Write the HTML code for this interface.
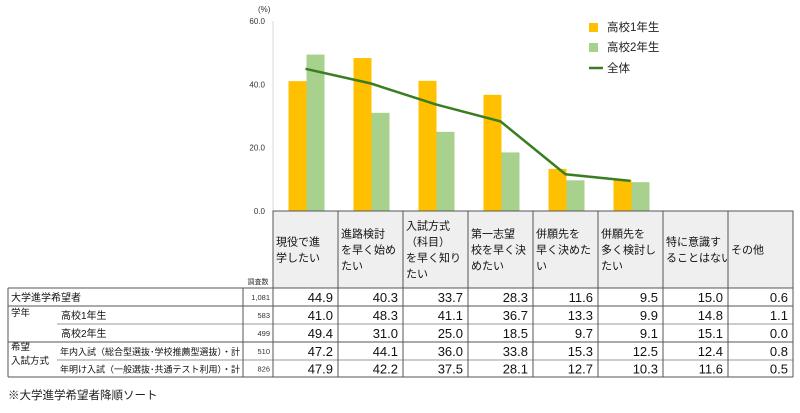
<!DOCTYPE html>
<html><head><meta charset="utf-8"><style>
body{margin:0;background:#fff;}
svg text{font-family:"Liberation Sans","Noto Sans CJK JP",sans-serif;}
</style></head><body>
<svg id="c" width="800" height="408" viewBox="0 0 800 408"></svg>
<script>
const categories=["現役で進\n学したい","進路検討\nを早く始め\nたい","入試方式\n（科目）\nを早く知り\nたい","第一志望\n校を早く決\nめたい","併願先を\n早く決めた\nい","併願先を\n多く検討し\nたい","特に意識す\nることはない","その他"];
const rowLabels=["大学進学希望者","高校1年生","高校2年生","年内入試（総合型選抜･学校推薦型選抜）・計","年明け入試（一般選抜･共通テスト利用）・計"];
const counts=["1,081","583","499","510","826"];
const allValues=[44.9,40.3,33.7,28.3,11.6,9.5,15.0,0.6];
const grade1Values=[41.0,48.3,41.1,36.7,13.3,9.9,14.8,1.1];
const grade2Values=[49.4,31.0,25.0,18.5,9.7,9.1,15.1,0.0];
const nennaiValues=[47.2,44.1,36.0,33.8,15.3,12.5,12.4,0.8];
const akeValues=[47.9,42.2,37.5,28.1,12.7,10.3,11.6,0.5];
const yTicks=[0,20,40,60];
const chartCount=6;

const svg=document.getElementById('c');const NS='http://www.w3.org/2000/svg';
function mk(t,a,p){const e=document.createElementNS(NS,t);for(const k in a)e.setAttribute(k,a[k]);(p||svg).appendChild(e);return e;}
const x0=273,cw=65,y0=211,yTop=21;
const ys=v=>y0-(v/60)*(y0-yTop);
const xc=i=>x0+cw*i+cw/2;

let ax=mk('line',{x1:x0,y1:yTop,x2:x0,y2:y0,stroke:'#d9d9d9'});

let t=mk('text',{x:258,y:12,'font-size':8,fill:'#333'});t.textContent='(%)';

yTicks.forEach(v=>{const e=mk('text',{x:265,y:ys(v)+3,'font-size':8,'text-anchor':'end',fill:'#333'});e.textContent=v.toFixed(1);
});

for(let i=0;i<chartCount;i++){
 const b1=mk('rect',{x:xc(i)-17,y:ys(grade1Values[i]),width:18,height:y0-ys(grade1Values[i]),fill:'#ffc000'});
 
 const b2=mk('rect',{x:xc(i)+1,y:ys(grade2Values[i]),width:18,height:y0-ys(grade2Values[i]),fill:'#a9d18e'});
 
}
let pts=[];for(let i=0;i<chartCount;i++)pts.push(xc(i)+','+ys(allValues[i]));
const ln=mk('polyline',{points:pts.join(' '),fill:'none',stroke:'#3a7d22','stroke-width':2.5});


const leg=[['rect','#ffc000','高校1年生',27],['rect','#a9d18e','高校2年生',47],['line','#3a7d22','全体',68]];
leg.forEach(l=>{
 let m;
 if(l[0]=='rect')m=mk('rect',{x:589,y:l[3]-4,width:9,height:9,fill:l[1]});
 else m=mk('line',{x1:589,y1:l[3],x2:603,y2:l[3],stroke:l[1],'stroke-width':2.5});
 
 const e=mk('text',{x:607,y:l[3]+4,'font-size':11.5,fill:'#222'});e.textContent=l[2];
 
});

const hTop=211,hBot=288;
categories.forEach((c,i)=>{
 const r=mk('rect',{x:x0+cw*i,y:hTop,width:cw,height:hBot-hTop,fill:'#efefef',stroke:'#555','stroke-width':1});
 
 const lines=c.split('\n');const lh=16;const start=(hTop+hBot)/2-(lines.length-1)*lh/2+4;
 lines.forEach((s,k)=>{const e=mk('text',{x:x0+cw*i+3,y:start+k*lh,'font-size':11,fill:'#111'});e.textContent=s;
 });
});
t=mk('text',{x:258,y:284,'font-size':7,'text-anchor':'middle',fill:'#333'});t.textContent='調査数';


const rowY=[288,306,324,342,360,377];
const data=[allValues,grade1Values,grade2Values,nennaiValues,akeValues];
const tx1=8,tx2=x0+cw*8;
mk('line',{x1:tx1,y1:288,x2:tx2,y2:288,stroke:'#555'});
mk('line',{x1:tx1,y1:306,x2:tx2,y2:306,stroke:'#555'});
mk('line',{x1:57,y1:324,x2:tx2,y2:324,stroke:'#777','stroke-width':0.7});
mk('line',{x1:tx1,y1:342,x2:tx2,y2:342,stroke:'#555'});
mk('line',{x1:57,y1:360,x2:tx2,y2:360,stroke:'#777','stroke-width':0.7});
mk('line',{x1:tx1,y1:377,x2:tx2,y2:377,stroke:'#555'});
mk('line',{x1:tx1,y1:288,x2:tx1,y2:377,stroke:'#555'});
mk('line',{x1:243,y1:288,x2:243,y2:377,stroke:'#555'});
for(let i=0;i<=8;i++)mk('line',{x1:x0+cw*i,y1:288,x2:x0+cw*i,y2:377,stroke:'#555'});
t=mk('text',{x:11,y:301,'font-size':10,fill:'#111'});t.textContent='大学進学希望者';

[['学年',11,316],['希望',11,350],['入試方式',11,364]].forEach(g=>{const e=mk('text',{x:g[1],y:g[2],'font-size':9.5,fill:'#111'});e.textContent=g[0];
});
for(let r=0;r<5;r++){
 const cy=(rowY[r]+rowY[r+1])/2;
 if(r>0){const e=mk('text',{x:r<3?61:60,y:cy+4,'font-size':r<3?10:9,fill:'#111'});e.textContent=rowLabels[r];
 }
 const c=mk('text',{x:270,y:cy+3,'font-size':7.5,'text-anchor':'end',fill:'#333'});c.textContent=counts[r];
 
 data[r].forEach((v,i)=>{const e=mk('text',{x:x0+cw*(i+1)-5,y:cy+5,'font-size':13,'text-anchor':'end',fill:'#111'});e.textContent=v.toFixed(1);
 });
}
t=mk('text',{x:8,y:399,'font-size':11.5,fill:'#222'});t.textContent='※大学進学希望者降順ソート';

</script>
</body></html>
